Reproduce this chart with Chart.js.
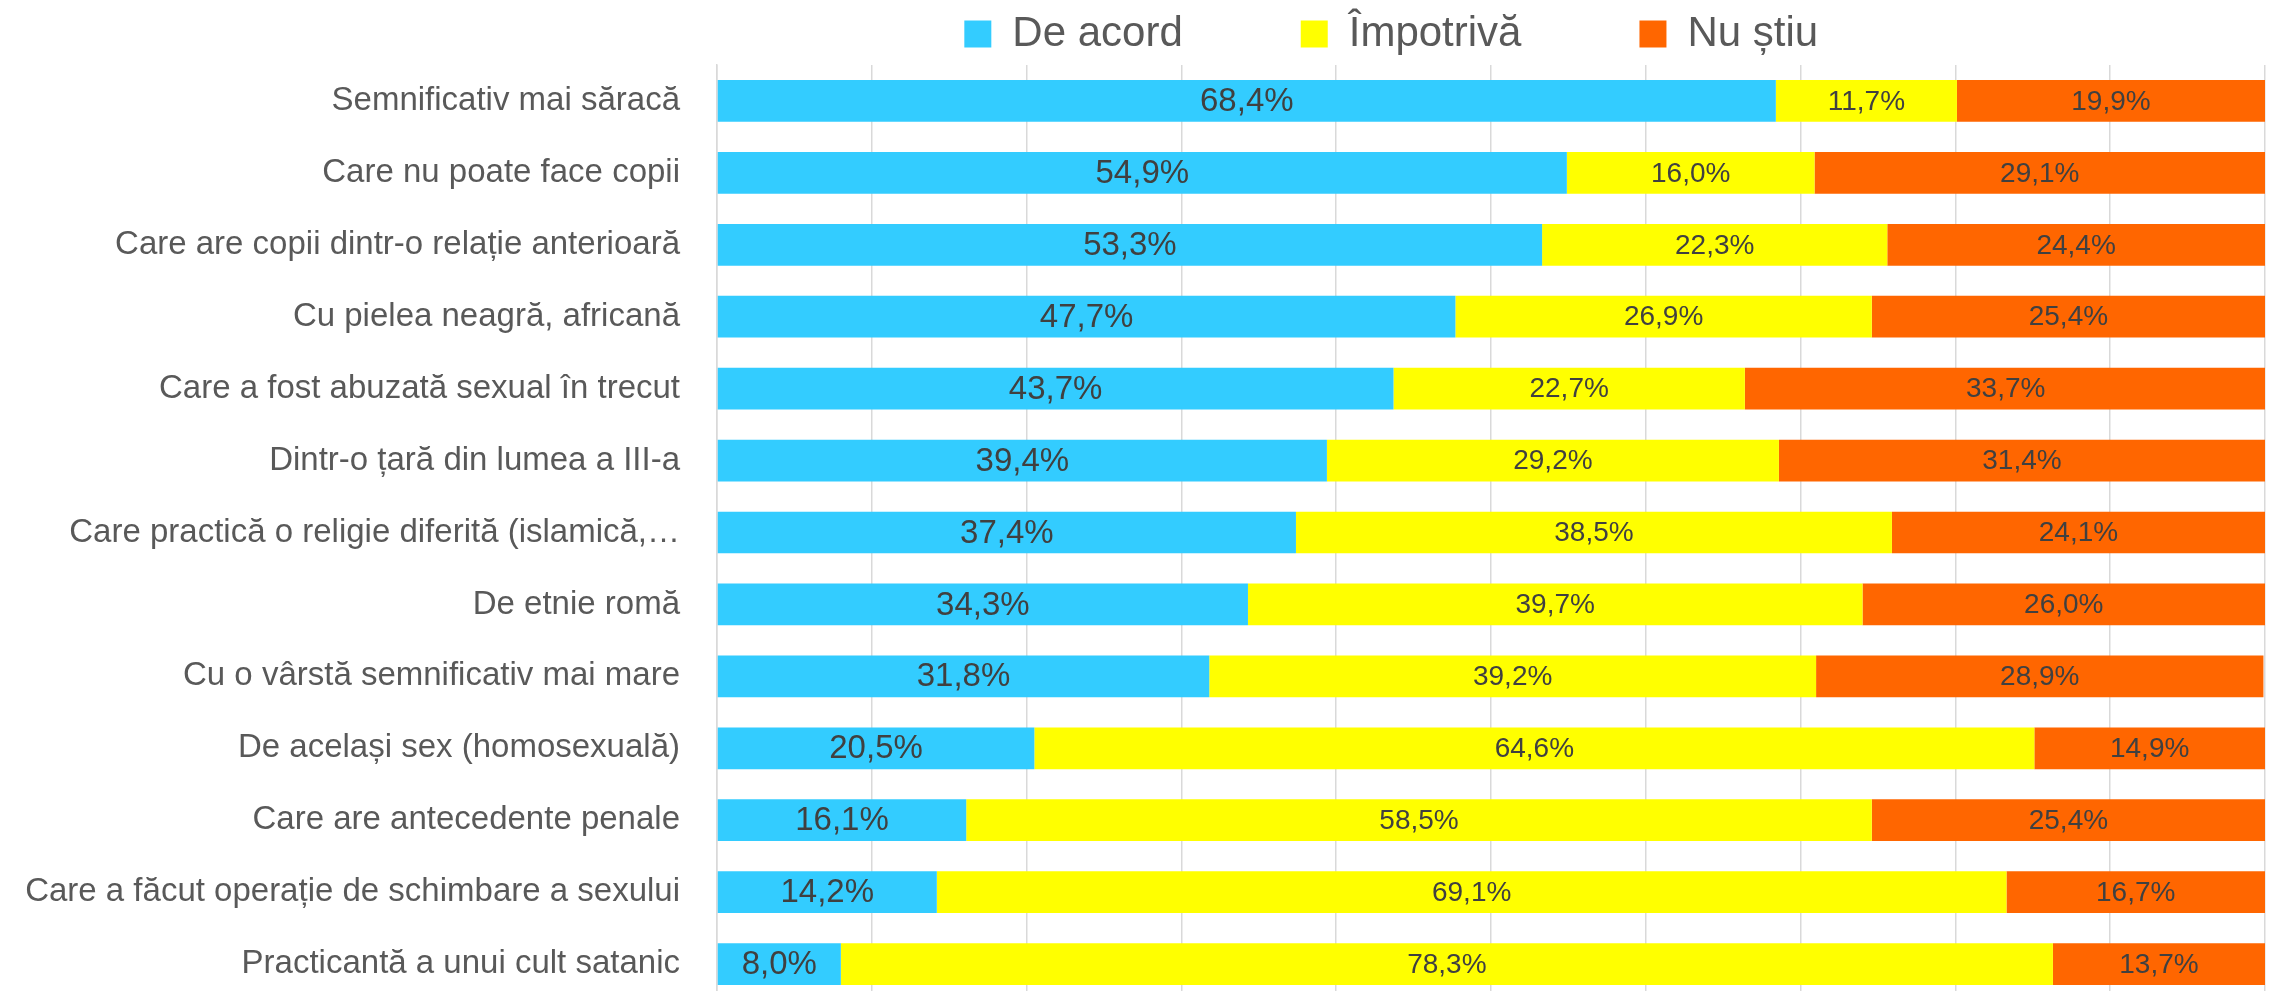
<!DOCTYPE html>
<html lang="ro">
<head>
<meta charset="utf-8">
<title>Atitudini</title>
<script src="https://cdn.jsdelivr.net/npm/chart.js@4/dist/chart.umd.min.js"></script>
<style>
  html, body { margin: 0; padding: 0; background: #fff; overflow: hidden; }
  #wrap { position: relative; width: 2272px; height: 1000px; }
</style>
</head>
<body>
<div id="wrap"><canvas id="stackChart"></canvas></div>
<script>
let categories = [
    'Semnificativ mai săracă',
    'Care nu poate face copii',
    'Care are copii dintr-o relație anterioară',
    'Cu pielea neagră, africană',
    'Care a fost abuzată sexual în trecut',
    'Dintr-o țară din lumea a III-a',
    'Care practică o religie diferită (islamică,…',
    'De etnie romă',
    'Cu o vârstă semnificativ mai mare',
    'De același sex (homosexuală)',
    'Care are antecedente penale',
    'Care a făcut operație de schimbare a sexului',
    'Practicantă a unui cult satanic'
];
let deAcord   = [68.4, 54.9, 53.3, 47.7, 43.7, 39.4, 37.4, 34.3, 31.8, 20.5, 16.1, 14.2, 8.0];
let impotriva = [11.7, 16.0, 22.3, 26.9, 22.7, 29.2, 38.5, 39.7, 39.2, 64.6, 58.5, 69.1, 78.3];
let nuStiu    = [19.9, 29.1, 24.4, 25.4, 33.7, 31.4, 24.1, 26.0, 28.9, 14.9, 25.4, 16.7, 13.7];
let xTicks = [0, 10, 20, 30, 40, 50, 60, 70, 80, 90, 100];

const textGrey = '#595959';
const labelGrey = '#404040';
const gridGrey = '#d9d9d9';

Chart.defaults.font.family = '"Liberation Sans", Arial, sans-serif';

// percentage written inside every segment, with a comma as decimal mark
const segmentLabels = {
    id: 'segmentLabels',
    afterDatasetsDraw(chart) {
        const ctx = chart.ctx;
        ctx.save();
        ctx.textAlign = 'center';
        ctx.textBaseline = 'middle';
        ctx.fillStyle = labelGrey;
        chart.data.datasets.forEach((ds, di) => {
            const meta = chart.getDatasetMeta(di);
            ctx.font = (di === 0 ? 33 : 28) + 'px "Liberation Sans", Arial, sans-serif';
            meta.data.forEach((bar, i) => {
                const txt = ds.data[i].toFixed(1).replace('.', ',') + '%';
                ctx.fillText(txt, (bar.x + bar.base) / 2, bar.y + 1);
            });
        });
        ctx.restore();
    }
};

// wide gaps between legend entries; the last one also pulls the row a bit left
const gap = '\u2003\u2003\u2002';
const tail = '\u2003\u2003\u2003\u2003\u2002\u2005';

const ctx = document.getElementById('stackChart').getContext('2d');
let stackChart = new Chart(ctx, {
    type: 'bar',
    data: {
        labels: categories,
        datasets: [
            { label: 'De acord', data: deAcord, backgroundColor: '#33ccff', borderWidth: 0 },
            { label: 'Împotrivă', data: impotriva, backgroundColor: '#ffff00', borderWidth: 0 },
            { label: 'Nu știu', data: nuStiu, backgroundColor: '#ff6600', borderWidth: 0 }
        ]
    },
    options: {
        indexAxis: 'y',
        responsive: true,
        maintainAspectRatio: false,
        animation: false,
        categoryPercentage: 1,
        barPercentage: 0.58,
        layout: { padding: { left: 0, right: 7, top: 0, bottom: 0 } },
        plugins: {
            tooltip: { enabled: false },
            legend: {
                position: 'top',
                fullSize: false,
                labels: {
                    color: textGrey,
                    font: { size: 42 },
                    boxWidth: 27,
                    boxHeight: 27,
                    padding: 13,
                    generateLabels(chart) {
                        const items = Chart.defaults.plugins.legend.labels.generateLabels(chart);
                        items.forEach((it, i) => { it.text += (i < items.length - 1) ? gap : tail; });
                        return items;
                    }
                }
            }
        },
        scales: {
            x: {
                stacked: true,
                min: 0,
                max: 100,
                afterBuildTicks: (s) => { s.ticks = xTicks.map(v => ({ value: v })); },
                ticks: { display: false },
                grid: { color: gridGrey, lineWidth: 1.5, drawTicks: false },
                border: { display: false }
            },
            y: {
                stacked: true,
                afterFit: (s) => {
                    s.width = 717;
                    // the label gap should not eat space above/below the bars
                    s.paddingTop = 0;
                    s.paddingBottom = 0;
                },
                ticks: { color: textGrey, font: { size: 33 }, padding: 37, autoSkip: false },
                grid: { display: false, drawTicks: false },
                border: { color: gridGrey, width: 1.5 }
            }
        }
    },
    plugins: [segmentLabels]
});
</script>
</body>
</html>
